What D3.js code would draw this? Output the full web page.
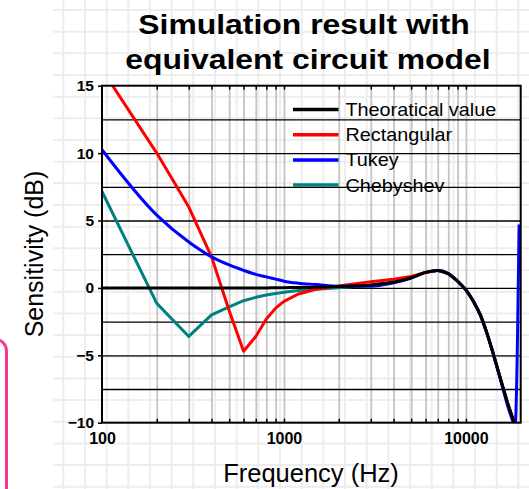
<!DOCTYPE html>
<html>
<head>
<meta charset="utf-8">
<title>Simulation result</title>
<style>
  body { margin: 0; background: #fff; }
  svg { display: block; font-family: Arial, "Liberation Sans", sans-serif; }
</style>
</head>
<body>
<div id="chart"></div>
<script src="https://cdn.jsdelivr.net/npm/d3@7"></script>
<script type="text/javascript">
// frequencies (Hz) the curves are sampled at
var freqs = [100, 200, 300, 400, 500, 600, 700, 800, 900, 1000, 1200, 1500, 2000, 3000, 4000, 5000,
             6000, 7000, 8000, 9000, 10000, 11000, 12000, 13000, 14000, 15000, 16000, 17000, 18000, 18600, 19600];

// sensitivity (dB)
var theoretical = [0, 0, 0, 0, 0, 0, 0, 0, 0.01, 0.02, 0.03, 0.05, 0.1, 0.22, 0.42, 0.75,
                   1.15, 1.3, 1.06, 0.5, -0.15, -1.0, -2.0, -3.3, -4.7, -6.1, -7.4, -8.6, -9.6, -10.2, -11.2];
var rectangular = [16.2, 10.0, 6.0, 2.3, -1.7, -4.7, -3.6, -2.3, -1.5, -1.0, -0.45, -0.1, 0.15, 0.45, 0.65, 0.85,
                   1.15, 1.3, 1.06, 0.5, -0.15, -1.0, -2.0, -3.3, -4.7, -6.1, -7.4, -8.6, -9.6, -10.2, -11.2];
var tukey = [10.25, 5.4, 3.4, 2.3, 1.7, 1.3, 1.0, 0.82, 0.65, 0.5, 0.35, 0.25, 0.12, 0.12, 0.38, 0.73,
             1.15, 1.3, 1.06, 0.5, -0.15, -1.0, -2.0, -3.3, -4.7, -6.15, -7.5, -8.8, -9.8, -10.4, 4.7];
var chebyshev = [7.15, -1.15, -3.6, -2.0, -1.4, -0.95, -0.7, -0.53, -0.42, -0.33, -0.2, -0.1, 0.02, 0.2, 0.42, 0.75,
                 1.15, 1.3, 1.06, 0.5, -0.15, -1.0, -2.0, -3.3, -4.7, -6.1, -7.4, -8.6, -9.6, -10.2, -11.2];

var seriesNames = ['Theoratical value', 'Rectangular', 'Tukey', 'Chebyshev'];
var seriesColors = ['#000000', '#ff0000', '#0000ff', '#008080'];

var yTicks = [-10, -5, 0, 5, 10, 15];
var yGrid = [-7.5, -5, -2.5, 0, 2.5, 5, 7.5, 10, 12.5];
var xLabels = [100, 1000, 10000];
var xGrid = [200, 300, 400, 500, 600, 700, 800, 900, 1000, 2000, 3000, 4000, 5000, 6000, 7000, 8000, 9000, 10000];

var W = 529, H = 489;
var pLeft = 102, pRight = 520.7, pTop = 85.7, pBottom = 422.7;

var svg = d3.select('#chart')
.append('svg')
.attr('width', W)
.attr('height', H);

// slide background grid
var bg = svg.append('g');
d3.range(10, H, 21.67).forEach(function(yy) {
    bg.append('line').attr('x1', 53).attr('x2', W).attr('y1', yy).attr('y2', yy)
    .attr('stroke', '#ededed').attr('stroke-width', 2);
});
d3.range(63.3, W, 21.67).forEach(function(xx) {
    bg.append('line').attr('x1', xx).attr('x2', xx).attr('y1', 0).attr('y2', H)
    .attr('stroke', '#ededed').attr('stroke-width', 2);
});

// pink box at the left edge
svg.append('rect')
.attr('x', -60).attr('y', 339).attr('width', 66.5).attr('height', 220)
.attr('rx', 12)
.attr('fill', 'none')
.attr('stroke', '#fb3497')
.attr('stroke-width', 3);

var x = d3.scaleLog().domain([100, 20000]).range([pLeft, pRight]);
var y = d3.scaleLinear().domain([-10, 15]).range([pBottom, pTop]);

// vertical grey grid
svg.append('g')
.attr('transform', 'translate(0,' + pBottom + ')')
.call(d3.axisBottom(x).tickValues(xGrid).tickSize(-(pBottom - pTop)).tickFormat(''))
.call(g => g.select('.domain').remove())
.call(g => g.selectAll('line').attr('stroke', '#c4c4c4').attr('stroke-width', 1.8));

// horizontal black grid
svg.append('g')
.attr('transform', 'translate(' + pLeft + ',0)')
.call(d3.axisLeft(y).tickValues(yGrid).tickSize(-(pRight - pLeft)).tickFormat(''))
.call(g => g.select('.domain').remove())
.call(g => g.selectAll('line').attr('stroke', '#000').attr('stroke-width', 1.3));

// inner ticks on bottom and top
[[d3.axisBottom, pBottom], [d3.axisTop, pTop]].forEach(function(a) {
    svg.append('g')
    .attr('transform', 'translate(0,' + a[1] + ')')
    .call(a[0](x).tickValues(xGrid).tickSize(-4).tickFormat(''))
    .call(g => g.select('.domain').remove())
    .call(g => g.selectAll('line').attr('stroke', '#000').attr('stroke-width', 1.5));
});

// x labels
svg.append('g')
.attr('transform', 'translate(0,' + pBottom + ')')
.call(d3.axisBottom(x).tickValues(xLabels).tickSize(0).tickPadding(10).tickFormat(d3.format('d')))
.call(g => g.select('.domain').remove())
.call(g => g.selectAll('text').attr('fill', '#000').style('font-size', '16px').style('font-weight', 'bold')
    .style('font-family', 'Arial, "Liberation Sans", sans-serif'));

// y axis
svg.append('g')
.attr('transform', 'translate(' + pLeft + ',0)')
.call(d3.axisLeft(y).tickValues(yTicks).tickSize(4).tickPadding(4))
.call(g => g.select('.domain').remove())
.call(g => g.selectAll('line').attr('stroke', '#000').attr('stroke-width', 1.5))
.call(g => g.selectAll('text').attr('fill', '#000').style('font-size', '15.5px').style('font-weight', 'bold')
    .style('font-family', 'Arial, "Liberation Sans", sans-serif'));

// curves
svg.append('clipPath').attr('id', 'plot-clip')
.append('rect').attr('x', pLeft).attr('y', pTop).attr('width', pRight - pLeft).attr('height', pBottom - pTop);

var allSeries = [theoretical, rectangular, tukey, chebyshev];
var curves = [d3.curveMonotoneX, d3.curveLinear, d3.curveMonotoneX, d3.curveLinear];
var drawOrder = [3, 1, 2, 0];

drawOrder.forEach(function(k) {
    var line = d3.line()
    .x((d, i) => x(freqs[i]))
    .y(d => y(d))
    .curve(curves[k]);

    svg.append('path')
    .attr('d', line(allSeries[k]))
    .attr('clip-path', 'url(#plot-clip)')
    .attr('fill', 'none')
    .attr('stroke', seriesColors[k])
    .attr('stroke-width', 3)
    .attr('stroke-linejoin', 'round');
});

// frame
svg.append('rect')
.attr('x', pLeft).attr('y', pTop).attr('width', pRight - pLeft).attr('height', pBottom - pTop)
.attr('fill', 'none').attr('stroke', '#000').attr('stroke-width', 2);

// legend
var legend = svg.append('g');
seriesNames.forEach(function(name, i) {
    var ly = 109.5 + i * 25.2;
    legend.append('line')
    .attr('x1', 293).attr('x2', 338.5).attr('y1', ly).attr('y2', ly)
    .attr('stroke', seriesColors[i]).attr('stroke-width', 3.5);
    legend.append('text')
    .attr('transform', 'translate(345.5,' + (ly + 6.5) + ') scale(1.1,1)')
    .style('font-size', '18px')
    .text(name);
});

// titles
var title = svg.append('g').style('font-weight', 'bold').style('font-size', '28.5px').attr('text-anchor', 'middle');
title.append('text').attr('transform', 'translate(304,33.5) scale(1.12,1)').text('Simulation result with');
title.append('text').attr('transform', 'translate(308,68.5) scale(1.12,1)').text('equivalent circuit model');

svg.append('text')
.attr('x', 311).attr('y', 481.5)
.attr('text-anchor', 'middle')
.style('font-size', '25.5px')
.text('Frequency (Hz)');

svg.append('text')
.attr('transform', 'translate(43,254) rotate(-90)')
.attr('text-anchor', 'middle')
.style('font-size', '25px')
.text('Sensitivity (dB)');
</script>
</body>
</html>
